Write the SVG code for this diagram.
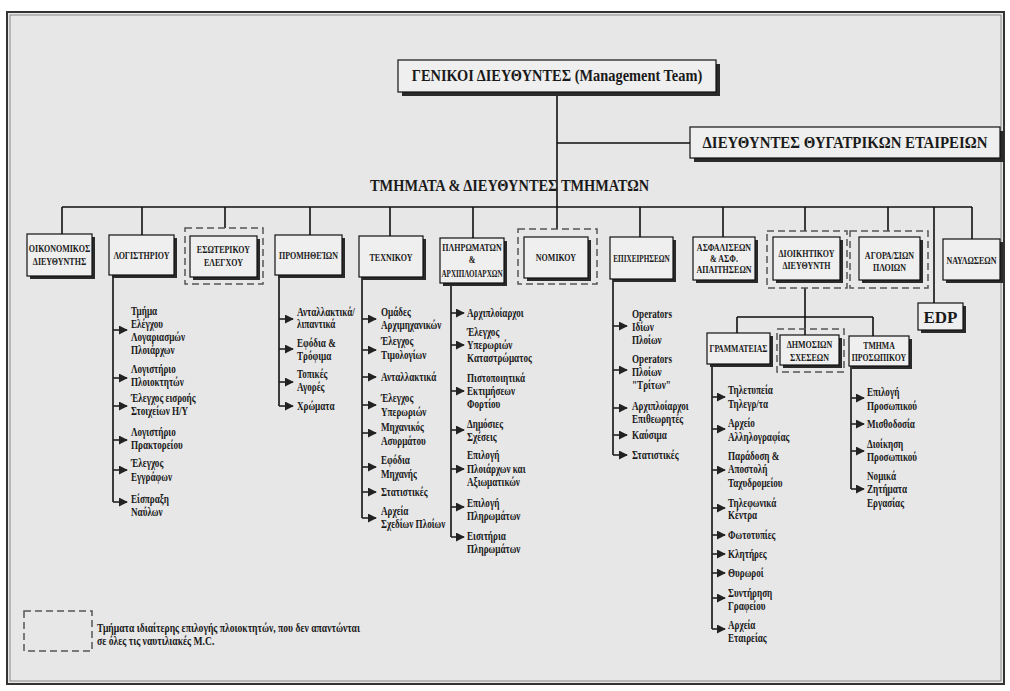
<svg xmlns="http://www.w3.org/2000/svg" width="1010" height="691" viewBox="0 0 1010 691">
<defs>
<style>
.t{font-family:"Liberation Serif","Times New Roman",serif;font-weight:bold;fill:#1a1a1a}
.h{font-size:16px}
.bl{font-size:10px}
.li{font-size:12px}
.box{fill:#efefef;stroke:#111;stroke-width:1.2}
.sh{fill:#2a2a2a}
.dash{fill:none;stroke:#555;stroke-width:1.5;stroke-dasharray:7 4}
.ln{stroke:#111;stroke-width:1.6;fill:none}
.ar{stroke:#222;stroke-width:1.6;fill:none;marker-end:url(#ah)}
</style>
<marker id="ah" viewBox="0 0 10 10" refX="9" refY="5" markerWidth="9" markerHeight="9" markerUnits="userSpaceOnUse" orient="auto"><path d="M0,0 L10,5 L0,10 z" fill="#222"/></marker>
</defs>
<rect x="0" y="0" width="1010" height="691" fill="#ffffff"/>
<rect x="7" y="12" width="997" height="672" fill="#e7e7e7" stroke="#333" stroke-width="2"/>
<rect x="10" y="15" width="991" height="666" fill="none" stroke="#888" stroke-width="1"/>

<g id="connectors">
<path class="ln" d="M557,92 V229 M557,143 H690 M62,207 H972 M62,207 V234 M142,207 V235 M225,207 V228 M310,207 V235 M390,207 V236 M473,207 V238 M640,207 V237 M723,207 V237 M805,207 V231 M888,207 V231 M934,207 V303 M972,207 V239"/>
<path class="ln" d="M805,288 V335 M737,317 H873 M737,317 V333 M873,317 V336"/>
<path class="ln" d="M113,275 V502 M279,275 V406 M362,277 V518 M451,283 V537 M613,279 V455 M712,364 V629 M851,366 V489"/>
<path class="ar" d="M113,330 H127"/><path class="ar" d="M113,378 H127"/><path class="ar" d="M113,406 H127"/><path class="ar" d="M113,440 H127"/><path class="ar" d="M113,470 H127"/><path class="ar" d="M113,502 H127"/>
<path class="ar" d="M279,319 H293"/><path class="ar" d="M279,349 H293"/><path class="ar" d="M279,382 H293"/><path class="ar" d="M279,406 H293"/>
<path class="ar" d="M362,319 H376"/><path class="ar" d="M362,350 H376"/><path class="ar" d="M362,377 H376"/><path class="ar" d="M362,405 H376"/><path class="ar" d="M362,433 H376"/><path class="ar" d="M362,467 H376"/><path class="ar" d="M362,492 H376"/><path class="ar" d="M362,518 H376"/>
<path class="ar" d="M451,313 H464"/><path class="ar" d="M451,345 H464"/><path class="ar" d="M451,391 H464"/><path class="ar" d="M451,430 H464"/><path class="ar" d="M451,469 H464"/><path class="ar" d="M451,507 H464"/><path class="ar" d="M451,537 H464"/>
<path class="ar" d="M613,326 H627"/><path class="ar" d="M613,370 H627"/><path class="ar" d="M613,408 H627"/><path class="ar" d="M613,435 H627"/><path class="ar" d="M613,455 H627"/>
<path class="ar" d="M712,397 H725"/><path class="ar" d="M712,429 H725"/><path class="ar" d="M712,470 H725"/><path class="ar" d="M712,508 H725"/><path class="ar" d="M712,535 H725"/><path class="ar" d="M712,554 H725"/><path class="ar" d="M712,573 H725"/><path class="ar" d="M712,598 H725"/><path class="ar" d="M712,629 H725"/>
<path class="ar" d="M851,398 H864"/><path class="ar" d="M851,424 H864"/><path class="ar" d="M851,451 H864"/><path class="ar" d="M851,489 H864"/>
</g>

<g id="management">
<rect class="sh" x="402" y="64" width="318" height="32"/>
<rect class="box" x="398" y="60" width="318" height="32"/>
<text class="t h" text-anchor="middle" transform="translate(557,81) scale(0.9,1)">ΓΕΝΙΚΟΙ ΔΙΕΥΘΥΝΤΕΣ (Management Team)</text>
</g>

<g id="subsidiaries">
<rect class="sh" x="694" y="131" width="310" height="31"/>
<rect class="box" x="690" y="127" width="310" height="31"/>
<text class="t h" text-anchor="middle" transform="translate(845,148) scale(0.93,1)">ΔΙΕΥΘΥΝΤΕΣ ΘΥΓΑΤΡΙΚΩΝ ΕΤΑΙΡΕΙΩΝ</text>
</g>

<g id="departments-label">
<text class="t h" transform="translate(370,191) scale(0.9,1)">ΤΜΗΜΑΤΑ &amp; ΔΙΕΥΘΥΝΤΕΣ ΤΜΗΜΑΤΩΝ</text>
</g>

<g id="oikonomikos">
<rect class="sh" x="30" y="237" width="65" height="42"/>
<rect class="box" x="27" y="234" width="65" height="42"/>
<text class="t bl" text-anchor="middle" transform="translate(59.5,0) scale(0.8,1)"><tspan x="0" y="252">ΟΙΚΟΝΟΜΙΚΟΣ</tspan><tspan x="0" y="265">ΔΙΕΥΘΥΝΤΗΣ</tspan></text>
</g>

<g id="logistiriou">
<rect class="sh" x="112" y="238" width="65" height="40"/>
<rect class="box" x="109" y="235" width="65" height="40"/>
<text class="t bl" text-anchor="middle" transform="translate(141.5,259) scale(0.8,1)">ΛΟΓΙΣΤΗΡΙΟΥ</text>
<text class="t li" transform="translate(131,0) scale(0.76,1)"><tspan x="0" y="315">Τμήμα</tspan><tspan x="0" y="328">Ελέγχου</tspan><tspan x="0" y="341">Λογαριασμών</tspan><tspan x="0" y="354">Πλοιάρχων</tspan><tspan x="0" y="373">Λογιστήριο</tspan><tspan x="0" y="386">Πλοιοκτητών</tspan><tspan x="0" y="402">Έλεγχος εισροής</tspan><tspan x="0" y="415">Στοιχείων Η/Υ</tspan><tspan x="0" y="436">Λογιστήριο</tspan><tspan x="0" y="449">Πρακτορείου</tspan><tspan x="0" y="467">Έλεγχος</tspan><tspan x="0" y="481">Εγγράφων</tspan><tspan x="0" y="503">Είσπραξη</tspan><tspan x="0" y="516">Ναύλων</tspan></text>
</g>

<g id="esoterikou">
<rect class="dash" x="185" y="228" width="78" height="56"/>
<rect class="sh" x="193" y="239" width="67" height="41"/>
<rect class="box" x="190" y="236" width="67" height="41"/>
<text class="t bl" text-anchor="middle" transform="translate(223.5,0) scale(0.8,1)"><tspan x="0" y="253">ΕΣΩΤΕΡΙΚΟΥ</tspan><tspan x="0" y="266">ΕΛΕΓΧΟΥ</tspan></text>
</g>

<g id="promitheion">
<rect class="sh" x="278" y="238" width="67" height="40"/>
<rect class="box" x="275" y="235" width="67" height="40"/>
<text class="t bl" text-anchor="middle" transform="translate(308.5,259) scale(0.8,1)">ΠΡΟΜΗΘΕΊΩΝ</text>
<text class="t li" transform="translate(297,0) scale(0.76,1)"><tspan x="0" y="316">Ανταλλακτικά/</tspan><tspan x="0" y="328">λιπαντικά</tspan><tspan x="0" y="347">Εφόδια &amp;</tspan><tspan x="0" y="360">Τρόφιμα</tspan><tspan x="0" y="378">Τοπικές</tspan><tspan x="0" y="391">Αγορές</tspan><tspan x="0" y="410">Χρώματα</tspan></text>
</g>

<g id="technikou">
<rect class="sh" x="362" y="239" width="64" height="41"/>
<rect class="box" x="359" y="236" width="64" height="41"/>
<text class="t bl" text-anchor="middle" transform="translate(391,261) scale(0.8,1)">ΤΕΧΝΙΚΟΥ</text>
<text class="t li" transform="translate(381,0) scale(0.76,1)"><tspan x="0" y="316">Ομάδες</tspan><tspan x="0" y="329">Αρχιμηχανικών</tspan><tspan x="0" y="345">Έλεγχος</tspan><tspan x="0" y="359">Τιμολογίων</tspan><tspan x="0" y="381">Ανταλλακτικά</tspan><tspan x="0" y="402">Έλεγχος</tspan><tspan x="0" y="416">Υπερωριών</tspan><tspan x="0" y="431">Μηχανικός</tspan><tspan x="0" y="445">Ασυρμάτου</tspan><tspan x="0" y="464">Εφόδια</tspan><tspan x="0" y="478">Μηχανής</tspan><tspan x="0" y="496">Στατιστικές</tspan><tspan x="0" y="515">Αρχεία</tspan><tspan x="0" y="528">Σχεδίων Πλοίων</tspan></text>
</g>

<g id="pliromaton">
<rect class="sh" x="443" y="241" width="64" height="45"/>
<rect class="box" x="440" y="238" width="64" height="45"/>
<text class="t bl" text-anchor="middle" transform="translate(472,0) scale(0.8,1)"><tspan x="0" y="251">ΠΛΗΡΩΜΑΤΩΝ</tspan><tspan x="0" y="263">&amp;</tspan></text>
<text class="t bl" text-anchor="middle" transform="translate(472,277) scale(0.71,1)">ΑΡΧΙΠΛΟΙΑΡΧΩΝ</text>
<text class="t li" transform="translate(467,0) scale(0.76,1)"><tspan x="0" y="317">Αρχιπλοίαρχοι</tspan><tspan x="0" y="336">Έλεγχος</tspan><tspan x="0" y="349">Υπερωριών</tspan><tspan x="0" y="362">Καταστρώματος</tspan><tspan x="0" y="382">Πιστοποιητικά</tspan><tspan x="0" y="395">Εκτιμήσεων</tspan><tspan x="0" y="408">Φορτίου</tspan><tspan x="0" y="428">Δημόσιες</tspan><tspan x="0" y="441">Σχέσεις</tspan><tspan x="0" y="459">Επιλογή</tspan><tspan x="0" y="473">Πλοιάρχων και</tspan><tspan x="0" y="486">Αξιωματικών</tspan><tspan x="0" y="507">Επιλογή</tspan><tspan x="0" y="520">Πληρωμάτων</tspan><tspan x="0" y="540">Εισιτήρια</tspan><tspan x="0" y="553">Πληρωμάτων</tspan></text>
</g>

<g id="nomikou">
<rect class="dash" x="518" y="229" width="79" height="55"/>
<rect class="sh" x="527" y="240" width="64" height="41"/>
<rect class="box" x="524" y="237" width="64" height="41"/>
<text class="t bl" text-anchor="middle" transform="translate(556,261) scale(0.8,1)">ΝΟΜΙΚΟΥ</text>
</g>

<g id="epixeiriseon">
<rect class="sh" x="613" y="240" width="63" height="42"/>
<rect class="box" x="610" y="237" width="63" height="42"/>
<text class="t bl" text-anchor="middle" transform="translate(641.5,262) scale(0.72,1)">ΕΠΙΧΕΙΡΗΣΕΩΝ</text>
<text class="t li" transform="translate(632,0) scale(0.76,1)"><tspan x="0" y="318">Operators</tspan><tspan x="0" y="331">Ιδίων</tspan><tspan x="0" y="344">Πλοίων</tspan><tspan x="0" y="363">Operators</tspan><tspan x="0" y="376">Πλοίων</tspan><tspan x="0" y="389">"Τρίτων"</tspan><tspan x="0" y="410">Αρχιπλοίαρχοι</tspan><tspan x="0" y="423">Επιθεωρητές</tspan><tspan x="0" y="439">Καύσιμα</tspan><tspan x="0" y="459">Στατιστικές</tspan></text>
</g>

<g id="asfaliseon">
<rect class="sh" x="696" y="240" width="62" height="43"/>
<rect class="box" x="693" y="237" width="62" height="43"/>
<text class="t bl" text-anchor="middle" transform="translate(724,0) scale(0.8,1)"><tspan x="0" y="251">ΑΣΦΑΛΙΣΕΩΝ</tspan><tspan x="0" y="262">&amp; ΑΣΦ.</tspan><tspan x="0" y="273">ΑΠΑΙΤΗΣΕΩΝ</tspan></text>
</g>

<g id="dioikitikou">
<rect class="dash" x="767" y="231" width="80" height="57"/>
<rect class="sh" x="776" y="240" width="67" height="43"/>
<rect class="box" x="773" y="237" width="67" height="43"/>
<text class="t bl" text-anchor="middle" transform="translate(806.5,0) scale(0.8,1)"><tspan x="0" y="257">ΔΙΟΙΚΗΤΙΚΟΥ</tspan><tspan x="0" y="269">ΔΙΕΥΘΥΝΤΗ</tspan></text>
</g>

<g id="agorapolision">
<rect class="dash" x="850" y="231" width="78" height="57"/>
<rect class="sh" x="862" y="240" width="61" height="43"/>
<rect class="box" x="859" y="237" width="61" height="43"/>
<text class="t bl" text-anchor="middle" transform="translate(889.5,0) scale(0.8,1)"><tspan x="0" y="259">ΑΓΟΡΑ/ΣΙΩΝ</tspan><tspan x="0" y="271">ΠΛΟΙΩΝ</tspan></text>
</g>

<g id="nayloseon">
<rect class="sh" x="946" y="242" width="57" height="41"/>
<rect class="box" x="943" y="239" width="57" height="41"/>
<text class="t bl" text-anchor="middle" transform="translate(971.5,264) scale(0.8,1)">ΝΑΥΛΩΣΕΩΝ</text>
</g>

<g id="edp">
<rect class="sh" x="921" y="306" width="45" height="27"/>
<rect class="box" x="918" y="303" width="45" height="27"/>
<text class="t" font-size="17" text-anchor="middle" x="940.5" y="323">EDP</text>
</g>

<g id="grammateias">
<rect class="sh" x="710" y="336" width="63" height="31"/>
<rect class="box" x="707" y="333" width="63" height="31"/>
<text class="t bl" text-anchor="middle" transform="translate(738.5,352) scale(0.78,1)">ΓΡΑΜΜΑΤΕΙΑΣ</text>
<text class="t li" transform="translate(728,0) scale(0.76,1)"><tspan x="0" y="394">Τηλετυπεία</tspan><tspan x="0" y="408">Τηλεγρ/τα</tspan><tspan x="0" y="427">Αρχείο</tspan><tspan x="0" y="441">Αλληλογραφίας</tspan><tspan x="0" y="460">Παράδοση &amp;</tspan><tspan x="0" y="473">Αποστολή</tspan><tspan x="0" y="487">Ταχυδρομείου</tspan><tspan x="0" y="507">Τηλεφωνικά</tspan><tspan x="0" y="519">Κέντρα</tspan><tspan x="0" y="539">Φωτοτυπίες</tspan><tspan x="0" y="558">Κλητήρες</tspan><tspan x="0" y="577">Θυρωροί</tspan><tspan x="0" y="597">Συντήρηση</tspan><tspan x="0" y="610">Γραφείου</tspan><tspan x="0" y="629">Αρχεία</tspan><tspan x="0" y="642">Εταιρείας</tspan></text>
</g>

<g id="dimosion">
<rect class="dash" x="777" y="329" width="67" height="43"/>
<rect class="sh" x="783" y="338" width="59" height="30"/>
<rect class="box" x="780" y="335" width="59" height="30"/>
<text class="t bl" text-anchor="middle" transform="translate(809.5,0) scale(0.8,1)"><tspan x="0" y="348">ΔΗΜΟΣΙΩΝ</tspan><tspan x="0" y="361">ΣΧΕΣΕΩΝ</tspan></text>
</g>

<g id="prosopikou">
<rect class="sh" x="852" y="339" width="60" height="30"/>
<rect class="box" x="849" y="336" width="60" height="30"/>
<text class="t bl" text-anchor="middle" transform="translate(879,0) scale(0.78,1)"><tspan x="0" y="349">ΤΜΗΜΑ</tspan><tspan x="0" y="361">ΠΡΟΣΩΠΙΚΟΥ</tspan></text>
<text class="t li" transform="translate(867,0) scale(0.76,1)"><tspan x="0" y="396">Επιλογή</tspan><tspan x="0" y="410">Προσωπικού</tspan><tspan x="0" y="428">Μισθοδοσία</tspan><tspan x="0" y="448">Διοίκηση</tspan><tspan x="0" y="461">Προσωπικού</tspan><tspan x="0" y="480">Νομικά</tspan><tspan x="0" y="493">Ζητήματα</tspan><tspan x="0" y="507">Εργασίας</tspan></text>
</g>

<g id="legend">
<rect class="dash" x="24" y="611" width="68" height="40"/>
<text class="t li" transform="translate(97,0) scale(0.8,1)"><tspan x="0" y="632">Τμήματα ιδιαίτερης επιλογής πλοιοκτητών, που δεν απαντώνται</tspan><tspan x="0" y="645">σε όλες τις ναυτιλιακές Μ.C.</tspan></text>
</g>
</svg>
